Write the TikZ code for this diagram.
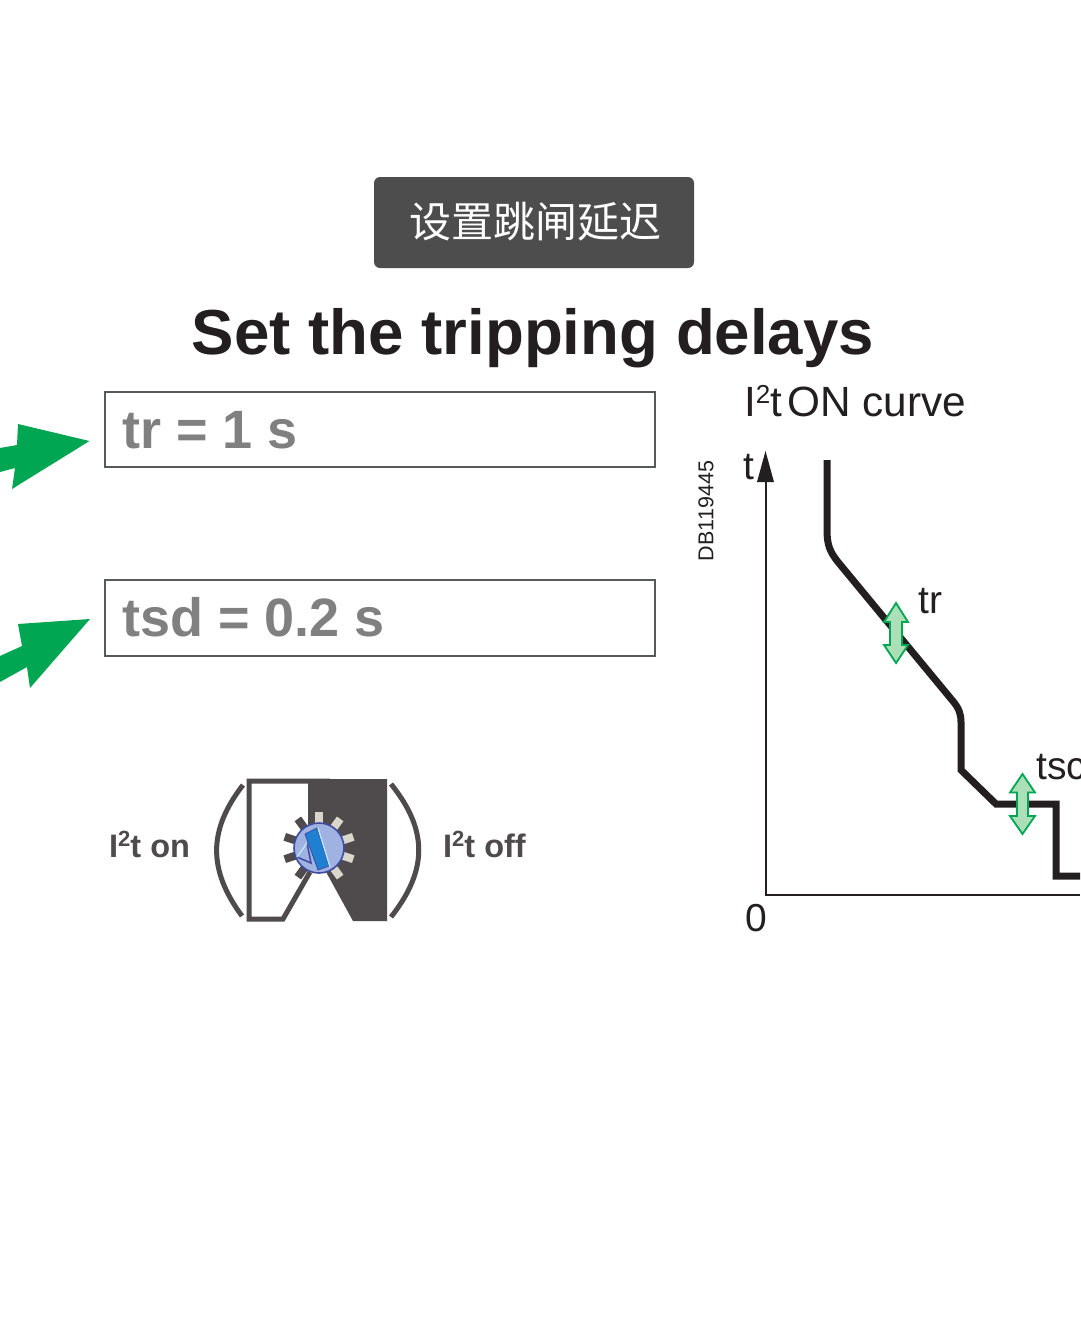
\documentclass[tikz,border=0pt]{standalone}
\usepackage{fontspec}
\setmainfont{Liberation Sans}
\newfontfamily\cjk{Noto Sans CJK SC}
\definecolor{arrowgreen}{HTML}{00A651}
\definecolor{palegreen}{HTML}{AADFB8}
\definecolor{badgegray}{HTML}{4D4D4D}
\definecolor{boxgray}{HTML}{808080}
\definecolor{framegray}{HTML}{58595B}
\definecolor{darkgray}{HTML}{4F4B4C}
\definecolor{curveblack}{HTML}{231F20}
\definecolor{tickgray}{HTML}{D9D7CC}
\definecolor{knobblue}{HTML}{9FB2E2}
\definecolor{knobline}{HTML}{3F4BA0}
\definecolor{barblue}{HTML}{1F7FD0}
\definecolor{barlight}{HTML}{BFEFFF}
\tikzset{
  delaybox/.style={draw=framegray,line width=1.6pt},
  delaytext/.style={text=boxgray,font=\fontsize{54}{54}\selectfont\bfseries,anchor=base west,inner sep=0pt},
  switchtext/.style={text=darkgray,font=\fontsize{32.5}{32.5}\selectfont\bfseries,anchor=base west,inner sep=0pt},
  curvetext/.style={text=curveblack,font=\fontsize{39}{39}\selectfont,anchor=base west,inner sep=0pt},
  greenarrow/.style={draw=arrowgreen,fill=palegreen,line width=1.8pt,line join=miter},
  knobtick/.style={line width=8pt},
}
\begin{document}
\begin{tikzpicture}[x=1pt,y=-1pt]
\useasboundingbox (0,0) rectangle (1080,1334);
\fill[white] (0,0) rectangle (1080,1334);
% badge and title
\fill[badgegray,rounded corners=6pt] (374,177) rectangle (694,268);
\node[text=white,font=\fontsize{42}{42}\selectfont\cjk,inner sep=0pt] (badge) at (535,222) {设置跳闸延迟};
\node[text=curveblack,font=\fontsize{63.6}{63.6}\selectfont\bfseries,inner sep=0pt,anchor=base] (title) at (533,354) {Set the tripping delays};
% delay boxes
\draw[delaybox] (105,392) rectangle (655,467);
\draw[delaybox] (105,580) rectangle (655,656);
\node[delaytext] (trtext) at (122,448) {tr = 1 s};
\node[delaytext] (tsdtext) at (122,636) {tsd = 0.2 s};
% green arrows
\fill[arrowgreen] (89.5,441) -- (18,424) -- (17,445) -- (0,448) -- (0,472) -- (15,468) -- (12,489) -- cycle;
\fill[arrowgreen] (90,619) -- (18,624) -- (22,646) -- (0,656) -- (0,682) -- (27,667) -- (30,688) -- cycle;
% switch
\node[switchtext] (on) at (109,857) {I\raisebox{.33em}{\fontsize{22}{22}\selectfont 2}t on};
\node[switchtext] (off) at (443,857) {I\raisebox{.33em}{\fontsize{22}{22}\selectfont 2}t off};
\draw[darkgray,line width=5pt] (243,785) .. controls (208,830) and (208,870) .. (242,916);
\draw[darkgray,line width=5pt] (391,784) .. controls (428,830) and (428,870) .. (391,917);
\fill[darkgray] (308,779) -- (387,779) -- (387,921) -- (353,921) -- (325,870) -- (319,848) -- (308,848) -- cycle;
\draw[darkgray,line width=5pt,line join=miter] (330,781) -- (249,781) -- (249,919) -- (283,919) -- (310,872);
\foreach \ang in {90,54,18,-18,-54}
  \draw[knobtick,tickgray] ({319+25*cos(\ang)},{848-25*sin(\ang)}) -- ({319+36*cos(\ang)},{848-36*sin(\ang)});
\foreach \ang in {126,162,198,234}
  \draw[knobtick,darkgray] ({319+25*cos(\ang)},{848-25*sin(\ang)}) -- ({319+36*cos(\ang)},{848-36*sin(\ang)});
\draw[fill=knobblue,draw=knobline,line width=1.6pt] (319,848) circle (25);
\draw[fill=barblue,draw=knobline,line width=.8pt] (305,834) -- (317,828) -- (329,866) -- (318,870) -- cycle;
\draw[barlight,line width=1.2pt] (318,828) -- (330,867);
\draw[knobline,line width=1.5pt,line join=miter] (307,843) -- (311,863) -- (297,857);
\draw[barlight,line width=1.2pt] (297,857) -- (307,843);
% axes
\draw[curveblack,line width=1.6pt] (766,480) -- (766,895) -- (1080,895);
\fill[curveblack] (765.5,451) -- (774,482) -- (757,482) -- cycle;
\node[curvetext] (tlabel) at (743,479) {t};
\node[curvetext] (zero) at (745,931) {0};
\node[curvetext,font=\fontsize{42.3}{42.3}\selectfont] (curvename) at (744,416) {I\raisebox{.3em}{\fontsize{26}{26}\selectfont 2}t\hspace{5pt}ON curve};
\node[text=curveblack,font=\fontsize{21.5}{21.5}\selectfont,rotate=90,inner sep=0pt] (refcode) at (706,511) {DB119445};
% trip curve
\draw[curveblack,line width=7pt,line join=miter] (827,460) -- (827,530) .. controls (827,545) and (830,552) .. (838,562) -- (952,700) .. controls (959,708) and (961,714) .. (961,722) -- (961,770) -- (996,804) -- (1056,804) -- (1056,876) -- (1080,876);
\node[curvetext] (trlabel) at (918,613) {tr};
\node[curvetext] (tsclabel) at (1036,779) {tsc};
\draw[greenarrow] (896,603) -- (908,622) -- (902,622) -- (902,645) -- (908,645) -- (896,663) -- (884,645) -- (890,645) -- (890,622) -- (884,622) -- cycle;
\draw[greenarrow] (1022.5,774) -- (1035,792.5) -- (1028,792.5) -- (1028,816) -- (1035,816) -- (1022.5,834) -- (1010,816) -- (1017,816) -- (1017,792.5) -- (1010,792.5) -- cycle;
\end{tikzpicture}
\end{document}
